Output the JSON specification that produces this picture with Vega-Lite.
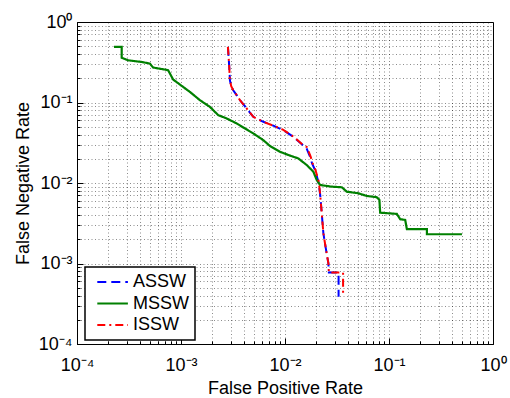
{
  "$schema": "https://vega.github.io/schema/vega-lite/v6.json",
  "width": 416,
  "height": 322,
  "autosize": {"type": "none"},
  "padding": {"left": 77, "top": 22, "right": 17, "bottom": 54},
  "config": {
    "view": {"stroke": "black", "strokeWidth": 1},
    "font": "Liberation Sans",
    "legend": {
      "orient": "none",
      "legendX": 8,
      "legendY": 245,
      "padding": 6,
      "strokeColor": "black",
      "strokeWidth": 1.5,
      "fillColor": "white",
      "labelFontSize": 18,
      "labelFont": "Liberation Sans",
      "labelColor": "black",
      "labelOffset": 24,
      "rowPadding": 3.5,
      "symbolType": "M-0.9,0H9.3",
      "symbolSize": 36,
      "symbolStrokeWidth": 2,
      "symbolFillColor": "transparent"
    },
    "axis": {
      "labelFont": "Liberation Sans",
      "labelFontSize": 18,
      "labelColor": "black",
      "titleFont": "Liberation Sans",
      "titleFontSize": 18,
      "titleFontWeight": "normal",
      "titleColor": "black",
      "domainColor": "black",
      "tickColor": "black",
      "grid": true,
      "gridColor": "#000000",
      "gridOpacity": 0.45,
      "gridDash": [1, 2.5],
      "gridWidth": 1,
      "labelOverlap": false,
      "labelFlush": false
    }
  },
  "data": {
    "values": [
      {"s": "ASSW", "i": 1, "fpr": 0.002826, "fnr": 0.49},
      {"s": "ASSW", "i": 2, "fpr": 0.002908, "fnr": 0.282},
      {"s": "ASSW", "i": 3, "fpr": 0.002954, "fnr": 0.189},
      {"s": "ASSW", "i": 4, "fpr": 0.00304, "fnr": 0.1595},
      {"s": "ASSW", "i": 5, "fpr": 0.003178, "fnr": 0.1422},
      {"s": "ASSW", "i": 6, "fpr": 0.003427, "fnr": 0.1234},
      {"s": "ASSW", "i": 7, "fpr": 0.003687, "fnr": 0.1069},
      {"s": "ASSW", "i": 8, "fpr": 0.004278, "fnr": 0.0844},
      {"s": "ASSW", "i": 9, "fpr": 0.004953, "fnr": 0.0664},
      {"s": "ASSW", "i": 10, "fpr": 0.00618, "fnr": 0.0576},
      {"s": "ASSW", "i": 11, "fpr": 0.00772, "fnr": 0.0516},
      {"s": "ASSW", "i": 12, "fpr": 0.00963, "fnr": 0.0454},
      {"s": "ASSW", "i": 13, "fpr": 0.01202, "fnr": 0.0375},
      {"s": "ASSW", "i": 14, "fpr": 0.01373, "fnr": 0.0322},
      {"s": "ASSW", "i": 15, "fpr": 0.01501, "fnr": 0.0292},
      {"s": "ASSW", "i": 16, "fpr": 0.01593, "fnr": 0.028},
      {"s": "ASSW", "i": 17, "fpr": 0.01741, "fnr": 0.0212},
      {"s": "ASSW", "i": 18, "fpr": 0.0182, "fnr": 0.01755},
      {"s": "ASSW", "i": 19, "fpr": 0.01945, "fnr": 0.0145},
      {"s": "ASSW", "i": 20, "fpr": 0.02093, "fnr": 0.01038},
      {"s": "ASSW", "i": 21, "fpr": 0.02173, "fnr": 0.00745},
      {"s": "ASSW", "i": 22, "fpr": 0.02256, "fnr": 0.00421},
      {"s": "ASSW", "i": 23, "fpr": 0.02338, "fnr": 0.00238},
      {"s": "ASSW", "i": 24, "fpr": 0.02482, "fnr": 0.001476},
      {"s": "ASSW", "i": 25, "fpr": 0.02612, "fnr": 0.00101},
      {"s": "ASSW", "i": 26, "fpr": 0.02641, "fnr": 0.000772},
      {"s": "ASSW", "i": 27, "fpr": 0.03275, "fnr": 0.000772},
      {"s": "ASSW", "i": 28, "fpr": 0.03275, "fnr": 0.000386},

      {"s": "MSSW", "i": 1, "fpr": 0.000227, "fnr": 0.49},
      {"s": "MSSW", "i": 2, "fpr": 0.000269, "fnr": 0.49},
      {"s": "MSSW", "i": 3, "fpr": 0.000269, "fnr": 0.36},
      {"s": "MSSW", "i": 4, "fpr": 0.000308, "fnr": 0.335},
      {"s": "MSSW", "i": 5, "fpr": 0.000417, "fnr": 0.319},
      {"s": "MSSW", "i": 6, "fpr": 0.000501, "fnr": 0.305},
      {"s": "MSSW", "i": 7, "fpr": 0.000539, "fnr": 0.272},
      {"s": "MSSW", "i": 8, "fpr": 0.000752, "fnr": 0.252},
      {"s": "MSSW", "i": 9, "fpr": 0.00084, "fnr": 0.193},
      {"s": "MSSW", "i": 10, "fpr": 0.001049, "fnr": 0.156},
      {"s": "MSSW", "i": 11, "fpr": 0.001217, "fnr": 0.1355},
      {"s": "MSSW", "i": 12, "fpr": 0.001519, "fnr": 0.1069},
      {"s": "MSSW", "i": 13, "fpr": 0.001896, "fnr": 0.0883},
      {"s": "MSSW", "i": 14, "fpr": 0.002279, "fnr": 0.0697},
      {"s": "MSSW", "i": 15, "fpr": 0.002746, "fnr": 0.0634},
      {"s": "MSSW", "i": 16, "fpr": 0.003427, "fnr": 0.055},
      {"s": "MSSW", "i": 17, "fpr": 0.003967, "fnr": 0.049},
      {"s": "MSSW", "i": 18, "fpr": 0.004953, "fnr": 0.0413},
      {"s": "MSSW", "i": 19, "fpr": 0.00618, "fnr": 0.0341},
      {"s": "MSSW", "i": 20, "fpr": 0.00717, "fnr": 0.0288},
      {"s": "MSSW", "i": 21, "fpr": 0.00895, "fnr": 0.0244},
      {"s": "MSSW", "i": 22, "fpr": 0.01117, "fnr": 0.0219},
      {"s": "MSSW", "i": 23, "fpr": 0.01343, "fnr": 0.0202},
      {"s": "MSSW", "i": 24, "fpr": 0.01618, "fnr": 0.01672},
      {"s": "MSSW", "i": 25, "fpr": 0.01873, "fnr": 0.01381},
      {"s": "MSSW", "i": 26, "fpr": 0.0202, "fnr": 0.01089},
      {"s": "MSSW", "i": 27, "fpr": 0.02173, "fnr": 0.00945},
      {"s": "MSSW", "i": 28, "fpr": 0.02817, "fnr": 0.009},
      {"s": "MSSW", "i": 29, "fpr": 0.03516, "fnr": 0.00885},
      {"s": "MSSW", "i": 30, "fpr": 0.03928, "fnr": 0.0078},
      {"s": "MSSW", "i": 31, "fpr": 0.0508, "fnr": 0.00745},
      {"s": "MSSW", "i": 32, "fpr": 0.0612, "fnr": 0.0069},
      {"s": "MSSW", "i": 33, "fpr": 0.0764, "fnr": 0.00665},
      {"s": "MSSW", "i": 34, "fpr": 0.0809, "fnr": 0.00615},
      {"s": "MSSW", "i": 35, "fpr": 0.0822, "fnr": 0.00428},
      {"s": "MSSW", "i": 36, "fpr": 0.119, "fnr": 0.00413},
      {"s": "MSSW", "i": 37, "fpr": 0.1281, "fnr": 0.00355},
      {"s": "MSSW", "i": 38, "fpr": 0.1431, "fnr": 0.00348},
      {"s": "MSSW", "i": 39, "fpr": 0.1486, "fnr": 0.00267},
      {"s": "MSSW", "i": 40, "fpr": 0.2315, "fnr": 0.00267},
      {"s": "MSSW", "i": 41, "fpr": 0.2315, "fnr": 0.00231},
      {"s": "MSSW", "i": 42, "fpr": 0.503, "fnr": 0.00231},

      {"s": "ISSW", "i": 1, "fpr": 0.002826, "fnr": 0.49},
      {"s": "ISSW", "i": 2, "fpr": 0.002908, "fnr": 0.282},
      {"s": "ISSW", "i": 3, "fpr": 0.002954, "fnr": 0.189},
      {"s": "ISSW", "i": 4, "fpr": 0.00304, "fnr": 0.1595},
      {"s": "ISSW", "i": 5, "fpr": 0.003178, "fnr": 0.1422},
      {"s": "ISSW", "i": 6, "fpr": 0.003427, "fnr": 0.1234},
      {"s": "ISSW", "i": 7, "fpr": 0.003687, "fnr": 0.1069},
      {"s": "ISSW", "i": 8, "fpr": 0.004278, "fnr": 0.0844},
      {"s": "ISSW", "i": 9, "fpr": 0.004953, "fnr": 0.0664},
      {"s": "ISSW", "i": 10, "fpr": 0.00618, "fnr": 0.0576},
      {"s": "ISSW", "i": 11, "fpr": 0.00772, "fnr": 0.0516},
      {"s": "ISSW", "i": 12, "fpr": 0.00963, "fnr": 0.0458},
      {"s": "ISSW", "i": 13, "fpr": 0.01202, "fnr": 0.0378},
      {"s": "ISSW", "i": 14, "fpr": 0.01373, "fnr": 0.0325},
      {"s": "ISSW", "i": 15, "fpr": 0.01501, "fnr": 0.0294},
      {"s": "ISSW", "i": 16, "fpr": 0.0162, "fnr": 0.028},
      {"s": "ISSW", "i": 17, "fpr": 0.0176, "fnr": 0.0215},
      {"s": "ISSW", "i": 18, "fpr": 0.0184, "fnr": 0.0177},
      {"s": "ISSW", "i": 19, "fpr": 0.0196, "fnr": 0.0146},
      {"s": "ISSW", "i": 20, "fpr": 0.0211, "fnr": 0.0105},
      {"s": "ISSW", "i": 21, "fpr": 0.02173, "fnr": 0.00745},
      {"s": "ISSW", "i": 22, "fpr": 0.02256, "fnr": 0.00421},
      {"s": "ISSW", "i": 23, "fpr": 0.02338, "fnr": 0.00238},
      {"s": "ISSW", "i": 24, "fpr": 0.02482, "fnr": 0.001476},
      {"s": "ISSW", "i": 25, "fpr": 0.02612, "fnr": 0.00101},
      {"s": "ISSW", "i": 26, "fpr": 0.02641, "fnr": 0.000772},
      {"s": "ISSW", "i": 27, "fpr": 0.03618, "fnr": 0.000772},
      {"s": "ISSW", "i": 28, "fpr": 0.03618, "fnr": 0.000409}
    ]
  },
  "encoding": {
    "x": {
      "field": "fpr",
      "type": "quantitative",
      "scale": {"type": "log", "domain": [0.0001, 1], "nice": false},
      "axis": {
        "title": "False Positive Rate",
        "values": [0.0001, 0.0002, 0.0003, 0.0004, 0.0005, 0.0006, 0.0007, 0.0008, 0.0009, 0.001, 0.002, 0.003, 0.004, 0.005, 0.006, 0.007, 0.008, 0.009, 0.01, 0.02, 0.03, 0.04, 0.05, 0.06, 0.07, 0.08, 0.09, 0.1, 0.2, 0.3, 0.4, 0.5, 0.6, 0.7, 0.8, 0.9, 1],
        "labelExpr": "abs(log(datum.value)/LN10 - round(log(datum.value)/LN10)) > 0.001 ? '' : round(log(datum.value)/LN10) == 0 ? '10\u2070' : round(log(datum.value)/LN10) == -1 ? '10\u207b\u00b9' : round(log(datum.value)/LN10) == -2 ? '10\u207b\u00b2' : round(log(datum.value)/LN10) == -3 ? '10\u207b\u00b3' : '10\u207b\u2074'",
        "tickSize": {"condition": {"test": "abs(log(datum.value)/LN10 - round(log(datum.value)/LN10)) < 0.001", "value": -6}, "value": -3},
        "labelPadding": 18,
        "titlePadding": 2
      }
    },
    "y": {
      "field": "fnr",
      "type": "quantitative",
      "scale": {"type": "log", "domain": [0.0001, 1], "nice": false},
      "axis": {
        "title": "False Negative Rate",
        "values": [0.0001, 0.0002, 0.0003, 0.0004, 0.0005, 0.0006, 0.0007, 0.0008, 0.0009, 0.001, 0.002, 0.003, 0.004, 0.005, 0.006, 0.007, 0.008, 0.009, 0.01, 0.02, 0.03, 0.04, 0.05, 0.06, 0.07, 0.08, 0.09, 0.1, 0.2, 0.3, 0.4, 0.5, 0.6, 0.7, 0.8, 0.9, 1],
        "labelExpr": "abs(log(datum.value)/LN10 - round(log(datum.value)/LN10)) > 0.001 ? '' : round(log(datum.value)/LN10) == 0 ? '10\u2070' : round(log(datum.value)/LN10) == -1 ? '10\u207b\u00b9' : round(log(datum.value)/LN10) == -2 ? '10\u207b\u00b2' : round(log(datum.value)/LN10) == -3 ? '10\u207b\u00b3' : '10\u207b\u2074'",
        "tickSize": {"condition": {"test": "abs(log(datum.value)/LN10 - round(log(datum.value)/LN10)) < 0.001", "value": -6}, "value": -3},
        "labelPadding": 11,
        "titlePadding": 6
      }
    },
    "color": {
      "field": "s",
      "type": "nominal",
      "scale": {"domain": ["ASSW", "MSSW", "ISSW"], "range": ["#0000ff", "#008000", "#ff0000"]},
      "legend": {"title": null}
    },
    "strokeDash": {
      "field": "s",
      "type": "nominal",
      "scale": {"domain": ["ASSW", "MSSW", "ISSW"], "range": [[9, 5], [1, 0], [8, 4, 2, 4]]},
      "legend": {"title": null}
    },
    "order": {"field": "i", "type": "quantitative"}
  },
  "layer": [
    {"transform": [{"filter": "datum.s == 'ASSW'"}], "mark": {"type": "line", "strokeWidth": 2, "clip": true}},
    {"transform": [{"filter": "datum.s == 'MSSW'"}], "mark": {"type": "line", "strokeWidth": 2.2, "clip": true}},
    {"transform": [{"filter": "datum.s == 'ISSW'"}], "mark": {"type": "line", "strokeWidth": 2, "clip": true}}
  ]
}
